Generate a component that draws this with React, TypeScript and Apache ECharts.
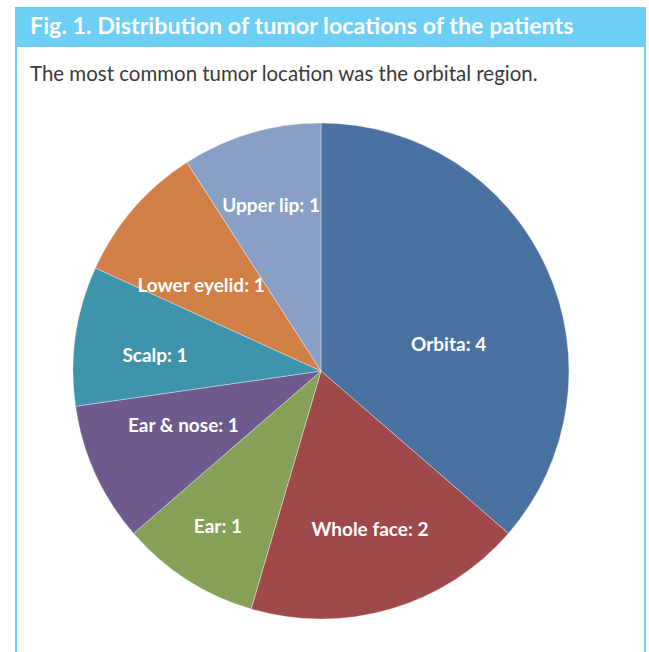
import React, { useEffect, useRef } from "react";
import * as echarts from "echarts";

const titleText = "Fig. 1. Distribution of tumor locations of the patients";
const subtitleText = "The most common tumor location was the orbital region.";
const categories = ["Orbita", "Whole face", "Ear", "Ear & nose", "Scalp", "Lower eyelid", "Upper lip"];
const counts = [4, 2, 1, 1, 1, 1, 1];

const sliceColors = ["#4A72A0", "#A0494B", "#86A057", "#6E5A8C", "#3E94AA", "#D17E47", "#889FC6"];
const labelOffsets = [[-24, 42], [2, -2], [-13, 14], [14, -16], [-1, 7], [6, 23], [-3, -7]];

const FRAME = "#6DCFF6";
const FONT = "Lato, 'Open Sans', sans-serif";

export default function App() {
  const ref = useRef<HTMLDivElement>(null);
  useEffect(() => {
    if (!ref.current) return;
    const chart = echarts.init(ref.current, null, { renderer: "svg" });
    const R = 248;
    const visible = categories.map((name, i) => ({
      name,
      value: counts[i],
      itemStyle: { color: sliceColors[i] },
    }));
    const labelData = categories.map((name, i) => ({
      name,
      value: counts[i],
      label: { offset: labelOffsets[i] },
    }));
    chart.setOption({
      animation: false,
      backgroundColor: "#ffffff",
      graphic: [
        { type: "rect", shape: { x: 15, y: 7, width: 631, height: 40 }, style: { fill: FRAME }, z: 10 },
        { type: "rect", shape: { x: 15, y: 7, width: 2, height: 645 }, style: { fill: FRAME }, z: 10 },
        { type: "rect", shape: { x: 644, y: 7, width: 2, height: 645 }, style: { fill: FRAME }, z: 10 },
        {
          type: "text",
          x: 30,
          y: 26,
          scaleX: 1.06,
          z: 11,
          style: {
            text: titleText,
            fill: "#ffffff",
            font: `bold 22px ${FONT}`,
            verticalAlign: "middle",
            align: "left",
          },
        },
        {
          type: "text",
          x: 30,
          y: 73,
          scaleX: 0.975,
          z: 11,
          style: {
            text: subtitleText,
            fill: "#3a3a3a",
            font: `21px ${FONT}`,
            verticalAlign: "middle",
            align: "left",
          },
        },
      ],
      series: [
        {
          type: "pie",
          center: [321, 371],
          radius: [0, R],
          startAngle: 90,
          clockwise: true,
          silent: true,
          label: { show: false },
          labelLine: { show: false },
          itemStyle: { borderColor: "rgba(255,255,255,0.35)", borderWidth: 1 },
          data: visible,
        },
        {
          type: "pie",
          center: [321, 371],
          radius: [0, R * 1.32],
          startAngle: 90,
          clockwise: true,
          silent: true,
          z: 3,
          itemStyle: { color: "transparent", borderWidth: 0 },
          labelLine: { show: false },
          label: {
            show: true,
            position: "inside",
            formatter: "{b}: {c}",
            color: "#ffffff",
            fontFamily: FONT,
            fontWeight: "bold",
            fontSize: 19,
            textBorderWidth: 0,
          },
          data: labelData,
        },
      ],
    });
    return () => chart.dispose();
  }, []);
  return (
    <div
      ref={ref}
      style={{ position: "absolute", left: 0, top: 0, width: 649, height: 652 }}
    />
  );
}
